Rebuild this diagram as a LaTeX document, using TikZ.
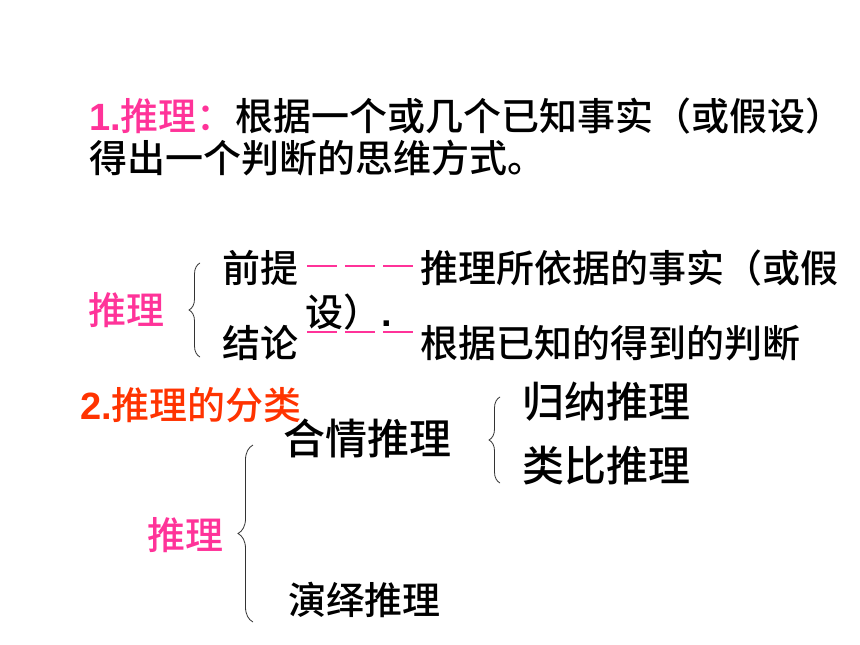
\documentclass[tikz,border=0pt]{standalone}
\usepackage{fontspec}
\setmainfont{Noto Sans CJK SC}[UprightFont={* Medium}]
\newfontfamily\latinbold{Liberation Sans}[BoldFont={* Bold}]
\usetikzlibrary{decorations.pathreplacing}
\definecolor{pinkred}{RGB}{255,51,153}
\definecolor{orangered}{RGB}{255,51,0}
\tikzset{
  txt/.style={anchor=west,inner sep=0pt,font=\fontsize{38}{44}\selectfont},
  bigtxt/.style={anchor=west,inner sep=0pt,font=\fontsize{42}{48}\selectfont},
  pinktxt/.style={txt,text=pinkred},
  dashline/.style={draw=pinkred,line width=2.4pt,dash pattern=on 30pt off 8pt},
  bracestyle/.style={draw=black!80,line width=0.8pt,decorate,decoration={brace,amplitude=#1}}
}
\begin{document}
\begin{tikzpicture}[x=1pt,y=-1pt]
\path[use as bounding box,fill=white] (0,0) rectangle (860,645);
% section 1
\node[pinktxt] (t1a) at (89,116) {{\latinbold\bfseries 1.}推理：};
\node[txt] (t1b) at (235,116) {根据一个或几个已知事实（或假设）};
\node[txt] (t2) at (89,158) {得出一个判断的思维方式。};
% premise / conclusion
\node[pinktxt] (r1) at (88,310) {推理};
\node[txt] (qt) at (222,268) {前提};
\node[txt] (qd) at (420,268) {推理所依据的事实（或假};
\node[txt] (sh) at (305,312) {设）{\latinbold\bfseries .}};
\node[txt] (jl) at (222,343) {结论};
\node[txt] (jd) at (420,343) {根据已知的得到的判断};
\coordinate (d1a) at (307,266);
\coordinate (d1b) at (415,266);
\coordinate (d2a) at (307,332);
\coordinate (d2b) at (415,332);
\draw[dashline] (d1a) -- (d1b);
\draw[dashline] (d2a) -- (d2b);
\coordinate (b1bot) at (200,357);
\coordinate (b1top) at (200,263);
\draw[bracestyle=11pt] (b1bot) -- (b1top);
% classification
\node[txt,text=orangered] (c) at (80,405) {{\latinbold\bfseries 2.}推理的分类};
\node[bigtxt] (hq) at (283,438) {合情推理};
\node[bigtxt] (gn) at (522,402) {归纳推理};
\node[bigtxt] (lb) at (522,466) {类比推理};
\coordinate (b2bot) at (500,483);
\coordinate (b2top) at (500,397);
\draw[bracestyle=11pt] (b2bot) -- (b2top);
\node[pinktxt] (r2) at (147,535) {推理};
\node[txt] (yy) at (288,600) {演绎推理};
\coordinate (b3bot) at (253,622);
\coordinate (b3top) at (253,445);
\draw[bracestyle=15pt] (b3bot) -- (b3top);
\end{tikzpicture}
\end{document}
